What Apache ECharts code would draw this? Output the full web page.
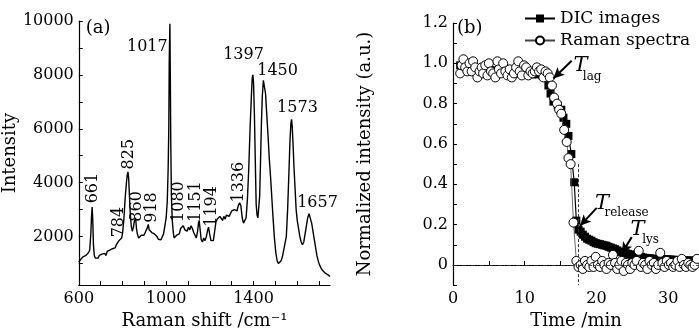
<!DOCTYPE html>
<html><head><meta charset="utf-8">
<script src="https://cdn.jsdelivr.net/npm/echarts@6/dist/echarts.min.js"></script>
<style>html,body{margin:0;padding:0;background:#fff}#c{width:699px;height:335px}</style>
</head><body><div id="c"></div>
<script>
// ---------- Panel (a): Raman spectrum ----------
const ramanShift = [600,608,614,620,626,632,638,644,650,655,658,661,664,667,671,676,682,688,694,700,706,712,718,724,730,736,742,748,754,760,766,772,778,784,790,796,800,806,812,818,822,825,828,832,836,840,845,850,855,860,864,868,874,880,886,892,898,904,910,915,918,922,928,934,940,946,952,958,964,970,976,982,988,994,1000,1005,1009,1012,1014,1017,1019,1021,1024,1028,1032,1036,1042,1048,1054,1060,1066,1072,1078,1082,1086,1090,1096,1102,1108,1114,1120,1126,1132,1138,1144,1148,1151,1155,1160,1166,1172,1178,1184,1190,1194,1199,1205,1210,1216,1222,1228,1234,1240,1246,1252,1258,1264,1270,1276,1282,1288,1294,1300,1306,1312,1318,1324,1330,1336,1342,1348,1354,1360,1366,1372,1378,1384,1390,1394,1397,1400,1404,1408,1412,1416,1420,1424,1428,1432,1436,1440,1445,1450,1455,1460,1466,1472,1478,1484,1490,1496,1502,1508,1514,1520,1526,1532,1538,1544,1550,1556,1562,1567,1571,1574,1577,1581,1585,1590,1595,1600,1606,1612,1618,1624,1630,1636,1642,1648,1654,1657,1661,1666,1672,1678,1684,1690,1696,1702,1708,1714,1720,1728,1736,1744,1750];
const intensity = [1050,1150,1100,1250,1180,1300,1250,1400,1500,2100,2700,3100,2600,1700,1300,1200,1250,1200,1300,1280,1350,1400,1380,1300,1450,1420,1500,1480,1550,1600,1580,1700,1650,1850,1800,1950,2100,2600,3400,4000,4300,4400,4200,3500,2800,2400,2200,2350,2600,2700,2300,2100,1950,2000,2050,2100,2050,2150,2200,2350,2450,2250,2200,2150,2200,2100,2050,2000,1900,1850,1880,1950,2100,2400,2700,3300,4500,6000,8500,9900,8000,5500,3500,2600,2200,1950,2000,2050,1980,2100,2300,2250,2400,2450,2250,2300,2200,2350,2250,2400,2300,2150,2050,1950,2200,2500,2600,2300,1900,1800,1950,1850,2000,2250,2350,2100,1850,1800,1850,2200,2550,2650,2600,2750,2700,2600,2750,2650,2800,2850,2750,2850,2950,2900,3000,3050,2950,3150,3250,3150,2700,2500,2450,2700,3400,4500,6000,7200,7900,8000,7700,6500,4800,3200,2800,2700,2750,3500,4800,6200,7200,7800,7850,7300,6600,5800,4900,4200,3400,2600,1900,1400,1100,1000,1050,1100,1250,1500,1500,2000,3000,4400,5600,6200,6350,6100,5400,4600,3800,3000,2600,2300,2000,1800,1700,1800,2100,2400,2700,2850,2900,2800,2500,2200,1900,1600,1300,1100,950,850,760,700,650,600,560,520];
const peakText = ['661','784','825','860','918','1017','1080','1151','1194','1336','1397','1450','1573','1657','(a)'];
const peakLabelX = [664,783,829,865,934,1007,1057,1135,1208,1331,1354,1510,1601,1693,632];
const peakLabelY = [3800,2540,5060,3120,3080,9045,3300,3300,3120,4020,8740,8160,6790,3260,9712];
const peakLabelRotate = [90,90,90,90,90,0,90,90,90,90,0,0,0,0,0];
const peakLabelAlign = ['center','center','center','center','center','right','center','center','center','center','center','center','center','center','left'];
const spectrumXTicks = [600,700,800,900,1000,1100,1200,1300,1400,1500,1600,1700];
const spectrumXLabels = [600,1000,1400];
const spectrumYTicks = [1000,2000,3000,4000,5000,6000,7000,8000,9000,10000];
const spectrumYLabels = [2000,4000,6000,8000,10000];

// ---------- Panel (b): normalized intensity vs time ----------
const dicTime = [1.0,1.3,1.6,1.9,2.2,2.5,2.8,3.1,3.4,3.7,4.0,4.3,4.6,4.9,5.2,5.5,5.8,6.1,6.5,7.0,7.5,8.0,8.5,9.0,9.5,10.0,10.5,11.0,11.5,12.0,12.5,13.0,13.3,13.6,14.0,14.6,15.1,15.4,15.8,16.1,16.5,16.9,17.2,17.5,17.8,18.1,18.4,18.7,19.0,19.3,19.6,19.9,20.2,20.5,20.8,21.1,21.4,21.7,22.0,22.3,22.6,22.9,23.2,23.5,23.8,24.1,24.4,24.7,25.0,25.3,25.6,25.9,26.2,26.5,26.8,27.1,27.5,27.9,28.3,28.7,29.1,29.5,29.9,30.3,30.7,31.1,31.5,31.9,32.3,32.7,33.1,33.5,33.9,34.2];
const dicValue = [0.99,0.985,0.98,0.985,0.98,0.975,0.98,0.975,0.97,0.975,0.97,0.97,0.965,0.97,0.965,0.96,0.965,0.96,0.96,0.955,0.96,0.955,0.95,0.955,0.95,0.95,0.95,0.945,0.95,0.945,0.94,0.93,0.89,0.85,0.81,0.79,0.77,0.73,0.70,0.64,0.55,0.41,0.22,0.175,0.165,0.15,0.14,0.13,0.125,0.12,0.113,0.108,0.105,0.103,0.1,0.097,0.095,0.09,0.086,0.082,0.078,0.072,0.066,0.063,0.06,0.058,0.055,0.052,0.05,0.049,0.047,0.044,0.04,0.037,0.035,0.034,0.033,0.031,0.03,0.03,0.029,0.028,0.028,0.027,0.026,0.025,0.024,0.023,0.023,0.022,0.022,0.022,0.021,0.021];
const ramanTime = [1.0,1.2,1.45,1.7,2.0,2.3,2.6,2.8,3.1,3.4,3.7,4.0,4.2,4.5,4.8,5.0,5.3,5.6,5.9,6.2,6.4,6.7,7.0,7.3,7.6,7.9,8.2,8.5,8.8,9.1,9.3,9.6,9.9,10.2,10.5,10.8,11.1,11.4,11.7,12.0,12.3,12.6,12.9,13.2,13.5,13.8,14.1,14.5,14.8,15.1,15.5,15.85,16.1,16.4,16.8,17.2,17.5,17.8,18.1,18.4,18.7,19.0,19.3,19.6,19.9,20.2,20.5,20.8,21.1,21.4,21.7,22.0,22.3,22.6,22.9,23.2,23.5,23.8,24.1,24.4,24.7,25.0,25.3,25.6,25.9,26.2,26.5,26.8,27.1,27.4,27.7,28.0,28.3,28.6,28.9,29.2,29.5,29.8,30.1,30.4,30.7,31.0,31.3,31.6,31.9,32.2,32.5,32.8,33.1,33.4,33.7,34.0];
const ramanValue = [0.95,0.99,1.02,0.98,0.96,1.0,0.96,1.01,0.98,0.93,0.96,0.98,0.95,0.99,0.94,1.0,0.96,0.95,0.93,1.01,0.97,0.95,1.0,0.96,0.94,0.97,0.93,0.95,0.98,1.01,0.96,0.94,0.99,0.98,0.94,0.96,0.95,0.96,0.98,0.96,0.97,0.93,0.96,0.95,0.93,0.89,0.83,0.80,0.77,0.75,0.67,0.61,0.53,0.50,0.21,0.02,-0.01,0.0,-0.02,0.02,0.0,-0.01,0.02,-0.01,0.04,0.0,-0.01,0.02,0.0,-0.02,0.01,0.0,0.05,0.01,-0.02,0.0,0.02,-0.03,0.01,0.0,-0.02,0.01,0.0,0.02,0.07,-0.01,0.01,0.0,-0.02,0.02,0.0,0.01,-0.02,0.0,0.06,0.01,-0.01,0.02,0.0,0.01,-0.01,0.0,0.02,-0.01,0.03,0.0,-0.01,0.01,0.0,-0.01,0.0,0.03];
const timeTicks = [0,5,10,15,20,25,30];
const timeLabels = [0,10,20,30];
const normTicks = [-0.1,0,0.1,0.2,0.3,0.4,0.5,0.6,0.7,0.8,0.9,1.0,1.1,1.2];
const normLabels = [0,0.2,0.4,0.6,0.8,1.0,1.2];
// annotation texts (data coordinates)
const annText = ['(b)','T','lag','T','release','T','lys'];
const annX = [0.56,17.78,19.4,20.78,24.2,25.73,27.55];
const annY = [1.176,0.99,0.935,0.305,0.258,0.175,0.125];
const annKind = ['panel','T','sub','T','sub','T','sub'];
const arrowFrom = [[16.55,1.013],[20.04,0.283],[24.92,0.138]];
const arrowTo = [[13.99,0.925],[17.71,0.194],[23.54,0.058]];
const releaseTime = 17.4;

const SERIF = 'DejaVu Serif';
const axisCommon = {
  axisLine: {lineStyle: {color: '#000', width: 1.2}},
  axisTick: {inside: true, length: 4, lineStyle: {color: '#000', width: 1}},
  splitLine: {show: false},
  axisLabel: {color: '#000', fontFamily: SERIF, fontSize: 16},
  nameTextStyle: {color: '#000', fontFamily: SERIF, fontSize: 18}
};
function ax(extra) {
  const o = JSON.parse(JSON.stringify(axisCommon));
  for (const k in extra) {
    if (typeof extra[k] === 'object' && !Array.isArray(extra[k]) && o[k]) Object.assign(o[k], extra[k]);
    else o[k] = extra[k];
  }
  return o;
}

const chart = echarts.init(document.getElementById('c'), null, {renderer: 'canvas'});
const option = {
  animation: false,
  backgroundColor: '#fff',
  grid: [
    {left: 78, top: 21, width: 252, bottom: 42},
    {left: 453, top: 23, right: 0, bottom: 42}
  ],
  legend: {
    data: ['DIC images', 'Raman spectra'],
    orient: 'vertical', left: 524, top: 10, padding: 0, itemGap: 5,
    itemWidth: 30, itemHeight: 10,
    textStyle: {fontFamily: SERIF, fontSize: 17, color: '#000'}
  },
  xAxis: [
    ax({gridIndex: 0, type: 'value', min: 600, max: 1750,
      name: 'Raman shift /cm\u207B\u00B9', nameLocation: 'middle', nameGap: 24,
      axisTick: {customValues: spectrumXTicks},
      axisLabel: {customValues: spectrumXLabels, margin: 6, formatter: v => String(v)}}),
    ax({gridIndex: 1, type: 'value', min: 0, max: 34.3,
      name: 'Time /min', nameLocation: 'middle', nameGap: 24,
      axisTick: {customValues: timeTicks},
      axisLabel: {customValues: timeLabels, margin: 6, formatter: v => String(v)}})
  ],
  yAxis: [
    ax({gridIndex: 0, type: 'value', min: 200, max: 10000,
      name: 'Intensity', nameLocation: 'middle', nameGap: 41,
      axisTick: {customValues: spectrumYTicks},
      axisLabel: {customValues: spectrumYLabels, margin: 5, formatter: v => String(v)}}),
    ax({gridIndex: 1, type: 'value', min: -0.1, max: 1.2,
      name: 'Normalized intensity (a.u.)', nameLocation: 'middle', nameGap: 79,
      axisTick: {customValues: normTicks},
      axisLabel: {customValues: normLabels, margin: 5,
        formatter: v => { const r = Math.round(v * 10); return r === 0 ? '0' : (r / 10).toFixed(1); }}})
  ],
  series: [
    {
      type: 'line', xAxisIndex: 0, yAxisIndex: 0, showSymbol: false,
      data: ramanShift.map((x, i) => [x, intensity[i]]),
      lineStyle: {color: '#000', width: 1.4}, silent: true
    },
    {
      type: 'scatter', xAxisIndex: 0, yAxisIndex: 0, symbolSize: 1,
      itemStyle: {color: 'rgba(0,0,0,0)', opacity: 1}, silent: true,
      data: peakText.map((t, i) => ({
        value: [peakLabelX[i], peakLabelY[i]],
        label: {show: true, position: 'inside', formatter: t, rotate: peakLabelRotate[i],
          align: peakLabelAlign[i], verticalAlign: 'middle',
          fontFamily: SERIF, fontSize: t === '(a)' ? 18 : 16, color: '#000'}
      }))
    },
    {
      name: 'DIC images', type: 'line', xAxisIndex: 1, yAxisIndex: 1,
      symbol: 'rect', symbolSize: 8, showAllSymbol: true,
      data: dicTime.map((t, i) => [t, dicValue[i]]),
      itemStyle: {color: '#000'}, lineStyle: {color: '#000', width: 1.2}, z: 3
    },
    {
      name: 'Raman spectra', type: 'line', xAxisIndex: 1, yAxisIndex: 1,
      symbol: 'circle', symbolSize: 9, showAllSymbol: true,
      data: ramanTime.map((t, i) => [t, ramanValue[i]]),
      itemStyle: {color: '#fff', borderColor: '#000', borderWidth: 1},
      lineStyle: {color: '#444', width: 0.8}, z: 4
    },
    {
      type: 'scatter', xAxisIndex: 1, yAxisIndex: 1, symbolSize: 1,
      itemStyle: {color: 'rgba(0,0,0,0)', opacity: 1}, silent: true, z: 5,
      data: annText.map((t, i) => ({
        value: [annX[i], annY[i]],
        label: {show: true, position: 'inside', formatter: t,
          align: annKind[i] === 'panel' ? 'left' : 'center', verticalAlign: 'middle',
          fontFamily: SERIF, color: '#000',
          fontSize: annKind[i] === 'T' ? 21 : (annKind[i] === 'sub' ? 12 : 18),
          fontStyle: annKind[i] === 'T' ? 'italic' : 'normal'}
      })),
      markLine: {
        silent: true, animation: false, label: {show: false},
        symbol: ['none', 'none'],
        data: [
          [{coord: [0, 0], lineStyle: {color: '#333', width: 0.8, type: [4, 2, 1, 2]}}, {coord: [34.3, 0]}],
          [{coord: [releaseTime, 0.5], lineStyle: {color: '#333', width: 1, type: [3, 2]}}, {coord: [releaseTime, -0.1]}]
        ].concat(arrowFrom.map((f, i) => [
          {coord: f, symbol: 'none', lineStyle: {color: '#000', width: 2, type: 'solid'}},
          {coord: arrowTo[i], symbol: 'arrow', symbolSize: [8, 11]}
        ]))
      }
    }
  ]
};
chart.setOption(option);
</script>
</body></html>
